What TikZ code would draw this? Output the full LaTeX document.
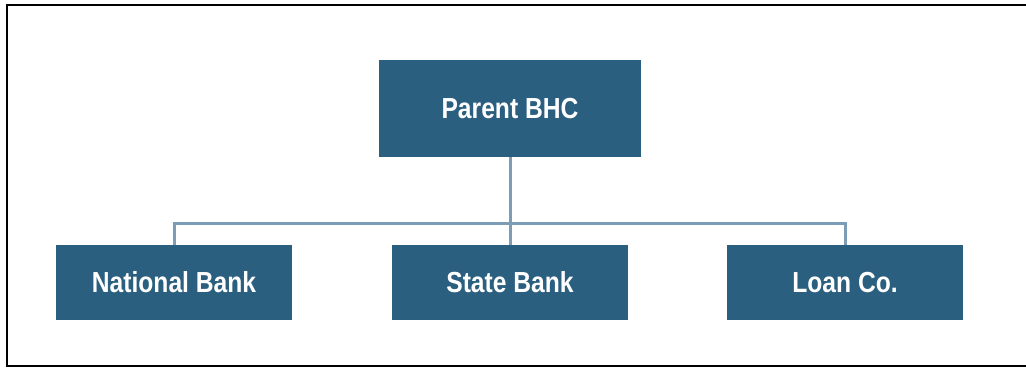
\documentclass[tikz,border=0pt]{standalone}
\usepackage{fontspec}
\setmainfont{Liberation Sans}[FakeStretch=0.85]
\definecolor{hopxanh}{HTML}{2B5F80}
\definecolor{duongnoi}{HTML}{7D9CB6}
\begin{document}
\begin{tikzpicture}[x=0.02cm,y=-0.02cm,
	hop/.style={fill=hopxanh,text=white,inner sep=0pt,
		font=\fontsize{16.5}{18}\selectfont\bfseries},
	hopcon/.style={hop,minimum width=4.72cm,minimum height=1.5cm},
	noi/.style={draw=duongnoi,line width=0.06cm}]
	\useasboundingbox (0,0) rectangle (1026,368);
	%Khung ngoai
	\draw[line width=0.05cm] (1030,5) -- (7,5) -- (7,366) -- (1030,366);
	%Khung me
	\node[hop,minimum width=5.26cm,minimum height=1.94cm] (me) at (510,108.5) {Parent BHC};
	%Khung con
	\node[hopcon] (nb) at (174,282.5) {National Bank};
	\node[hopcon] (sb) at (510,282.5) {State Bank};
	\node[hopcon] (lc) at (845,282.5) {Loan Co.};
	%Duong noi
	\coordinate (nhanh) at (510,223);
	\draw[noi] (me.south) -- (sb.north);
	\draw[noi] (nb.north) -- (nb.north |- nhanh) -- (lc.north |- nhanh) -- (lc.north);
\end{tikzpicture}
\end{document}
